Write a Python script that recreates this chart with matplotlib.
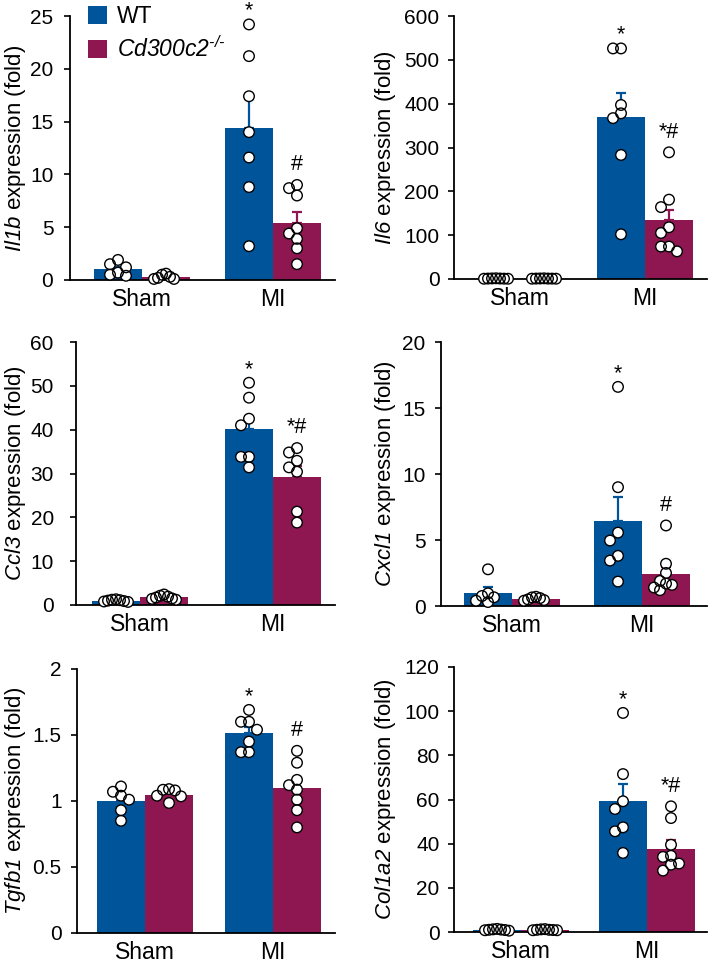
import numpy as np
import matplotlib
matplotlib.use('Agg')
import matplotlib.pyplot as plt
from matplotlib.patches import Patch
from matplotlib.ticker import FuncFormatter

plt.rcParams['font.family'] = 'Liberation Sans'
plt.rcParams['mathtext.fontset'] = 'custom'
# everything inside $...$ is a gene name, so keep digits italic too
plt.rcParams['mathtext.rm'] = 'Liberation Sans:italic'
plt.rcParams['mathtext.it'] = 'Liberation Sans:italic'

WT_COLOR = '#00549a'
KO_COLOR = '#8f1751'

groups = ['Sham', 'MI']
genotypes = ['WT', '$Cd300c2^{\u2010/\u2010}$']

# values, order of means/sems: Sham WT, Sham KO, MI WT, MI KO
il1b_sham_wt = [1.9, 1.5, 1.2, 0.7, 0.5, 0.4]
il1b_sham_ko = [0.6, 0.5, 0.3, 0.2, 0.1, 0.1]
il1b_mi_wt = [24.2, 21.2, 17.4, 14.0, 11.6, 8.8, 3.2]
il1b_mi_ko = [9.0, 8.7, 8.0, 4.9, 4.4, 3.9, 3.0, 1.5]
il1b_mean = [1.0, 0.3, 14.35, 5.43]
il1b_sem = [0.25, 0.1, 2.75, 1.0]

il6_sham_wt = [1.6, 1.3, 1.1, 1.0, 0.8, 0.6, 0.6]
il6_sham_ko = [1.5, 1.2, 1.0, 1.0, 0.9, 0.7, 0.7]
il6_mi_wt = [526, 526, 397, 378, 367, 283, 102]
il6_mi_ko = [289, 181, 164, 118, 105, 74, 74, 63]
il6_mean = [1.0, 1.0, 369, 133.5]
il6_sem = [0.15, 0.12, 55, 25]

ccl3_sham_wt = [1.3, 1.2, 1.1, 1.0, 0.9, 0.8, 0.7]
ccl3_sham_ko = [2.4, 2.1, 1.9, 1.7, 1.5, 1.4, 1.2]
ccl3_mi_wt = [50.7, 47.3, 42.5, 41.0, 33.8, 33.8, 31.4]
ccl3_mi_ko = [35.8, 34.8, 32.9, 31.4, 30.4, 21.3, 18.8]
ccl3_mean = [1.0, 1.75, 40.1, 29.3]
ccl3_sem = [0.1, 0.18, 2.8, 2.5]

cxcl1_sham_wt = [2.78, 0.96, 0.76, 0.66, 0.4, 0.3]
cxcl1_sham_ko = [0.7, 0.65, 0.6, 0.5, 0.45, 0.4]
cxcl1_mi_wt = [16.6, 9.0, 5.56, 4.96, 3.8, 3.44, 1.85]
cxcl1_mi_ko = [6.1, 3.2, 2.5, 1.9, 1.7, 1.6, 1.4, 1.2]
cxcl1_mean = [1.0, 0.55, 6.47, 2.42]
cxcl1_sem = [0.42, 0.05, 1.82, 0.52]

tgfb1_sham_wt = [1.11, 1.07, 1.04, 1.01, 0.93, 0.85]
tgfb1_sham_ko = [1.09, 1.085, 1.08, 1.04, 1.035, 0.985]
tgfb1_mi_wt = [1.69, 1.60, 1.60, 1.54, 1.45, 1.37, 1.37]
tgfb1_mi_ko = [1.38, 1.29, 1.16, 1.12, 1.086, 1.01, 0.93, 0.80]
tgfb1_mean = [1.0, 1.045, 1.515, 1.098]
tgfb1_sem = [0.04, 0.02, 0.045, 0.065]

col1a2_sham_wt = [1.4, 1.2, 1.1, 1.0, 0.9, 0.8, 0.6]
col1a2_sham_ko = [1.3, 1.2, 1.0, 1.0, 0.9, 0.8, 0.8]
col1a2_mi_wt = [99.2, 71.5, 59.2, 55.7, 47.4, 45.6, 35.8]
col1a2_mi_ko = [56.9, 51.6, 39.5, 34.5, 34.0, 31.0, 30.5, 27.8]
col1a2_mean = [1.0, 1.0, 59.2, 37.6]
col1a2_sem = [0.1, 0.1, 7.8, 3.9]

panels = [
    ('Il1b', [il1b_sham_wt, il1b_sham_ko, il1b_mi_wt, il1b_mi_ko], il1b_mean, il1b_sem, 25, 5, ['*', '#']),
    ('Il6', [il6_sham_wt, il6_sham_ko, il6_mi_wt, il6_mi_ko], il6_mean, il6_sem, 600, 100, ['*', '*#']),
    ('Ccl3', [ccl3_sham_wt, ccl3_sham_ko, ccl3_mi_wt, ccl3_mi_ko], ccl3_mean, ccl3_sem, 60, 10, ['*', '*#']),
    ('Cxcl1', [cxcl1_sham_wt, cxcl1_sham_ko, cxcl1_mi_wt, cxcl1_mi_ko], cxcl1_mean, cxcl1_sem, 20, 5, ['*', '#']),
    ('Tgfb1', [tgfb1_sham_wt, tgfb1_sham_ko, tgfb1_mi_wt, tgfb1_mi_ko], tgfb1_mean, tgfb1_sem, 2, 0.5, ['*', '#']),
    ('Col1a2', [col1a2_sham_wt, col1a2_sham_ko, col1a2_mi_wt, col1a2_mi_ko], col1a2_mean, col1a2_sem, 120, 20, ['*', '*#']),
]

# layout in pixels: left, right, top, bottom, sham centre, MI centre, ylabel x, tick label pad (pt)
layout = [
    (70, 335, 16, 280, 142, 273, 28, 8),
    (454, 707, 16, 279, 520, 645, 398, 6.5),
    (76, 335, 342, 605, 140, 273, 28, 12),
    (441, 707, 342, 606, 512, 642, 398, 7),
    (77, 335, 669, 933, 145, 273, 28, 7),
    (454, 707, 667, 932, 521, 647, 398, 6.5),
]

W, H = 709, 968
BAR_PX = 48


def swarm(vals, ppy, d=8.0, cap=12.0):
    ys = np.asarray(vals, dtype=float) * ppy
    offs = np.zeros(len(ys))
    placed = []
    cands = [0.0] + [s * m * d for m in range(1, 30) for s in (-1, 1)]
    for i in np.argsort(-ys):
        for c in cands:
            if all(np.hypot(c - offs[j], ys[i] - ys[j]) >= d - 1e-9 for j in placed):
                offs[i] = c
                break
        placed.append(i)
    m = np.abs(offs).max()
    if m > cap:
        offs *= cap / m
    return offs


fig = plt.figure(figsize=(W / 100, H / 100), dpi=100)

for k, (gene, pts, mean, sem, ymax, step, marks) in enumerate(panels):
    left, right, top, bottom, c0, c1, lx, ypad = layout[k]
    ax = fig.add_axes([left / W, 1 - bottom / H, (right - left) / W, (bottom - top) / H])
    scale = c1 - c0
    ppy = (bottom - top) / ymax
    half = BAR_PX / 2 / scale
    xs = [0 - half, 0 + half, 1 - half, 1 + half]
    colors = [WT_COLOR, KO_COLOR, WT_COLOR, KO_COLOR]

    ax.bar(xs, mean, width=BAR_PX / scale, color=colors, edgecolor='none', zorder=1)
    for x, m, s, c in zip(xs, mean, sem, colors):
        ax.errorbar(x, m, yerr=[[0], [s]], fmt='none', ecolor=c, elinewidth=1.6,
                    capsize=3.5, capthick=1.6, zorder=2)
    for x, v in zip(xs, pts):
        dx = swarm(v, ppy) / scale
        ax.scatter(x + dx, v, s=58, facecolor='white', edgecolor='none', zorder=3, clip_on=False)
        ax.scatter(x + dx, v, s=58, facecolor='none', edgecolor='black', linewidths=1.0,
                   zorder=4, clip_on=False)
    for x, v, mk in zip(xs[2:], pts[2:], marks):
        off = 2 if mk == '*' else 7
        ax.annotate(mk, (x, max(v)), xytext=(0, off), textcoords='offset points',
                    ha='center', va='bottom', fontsize=15.5, zorder=5)

    ax.set_xlim((left - c0) / scale, (right - c0) / scale)
    ax.set_ylim(0, ymax)
    ax.set_yticks(np.arange(0, ymax + step / 2, step))
    ax.yaxis.set_major_formatter(FuncFormatter(lambda v, p: f'{v:g}'))
    ax.set_xticks([0, 1])
    ax.set_xticklabels(groups, fontsize=16.5)
    ax.tick_params(axis='x', length=0, pad=6)
    ax.tick_params(axis='y', length=4, width=1.2, labelsize=15, pad=ypad)
    for sp in ['top', 'right']:
        ax.spines[sp].set_visible(False)
    for sp in ['left', 'bottom']:
        ax.spines[sp].set_linewidth(1.3)
    ax.set_ylabel('$' + gene + '$ expression (fold)', fontsize=16)
    ax.yaxis.set_label_coords(lx / W, 1 - (top + bottom) / 2 / H, transform=fig.transFigure)

    if k == 0:
        handles = [Patch(facecolor=WT_COLOR), Patch(facecolor=KO_COLOR)]
        ax.legend(handles, genotypes, loc='upper left', bbox_to_anchor=(88 / W, 1 - 5 / H),
                  bbox_transform=fig.transFigure, frameon=False, fontsize=16.5,
                  handlelength=0.85, handleheight=0.85, handletextpad=0.4,
                  labelspacing=0.35, borderpad=0, borderaxespad=0)

fig.savefig('out.png', dpi=100)
